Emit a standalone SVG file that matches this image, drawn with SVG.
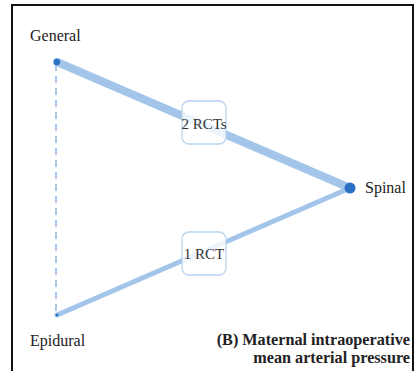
<svg xmlns="http://www.w3.org/2000/svg" width="417" height="371" viewBox="0 0 417 371">
<style>
.lbl{font-family:"Liberation Serif","Times New Roman",serif;font-size:16px;fill:#222}
.elbl{font-family:"Liberation Serif","Times New Roman",serif;font-size:15px;fill:#333;text-anchor:middle}
.ttl{font-family:"Liberation Serif","Times New Roman",serif;font-size:16.2px;font-weight:bold;fill:#222;text-anchor:end}
.box{fill:#ffffff;fill-opacity:0.8;stroke:#b9d4ef;stroke-width:1.3}
.node{fill:#2c72c4}
.edge{stroke:#a3c5ea;fill:none;stroke-linecap:round}
</style>
<rect width="417" height="371" fill="#ffffff"/>
<rect x="12" y="5" width="401" height="380" fill="none" stroke="#111" stroke-width="2"/>
<g id="connectors">
<line class="edge" x1="57" y1="62" x2="350" y2="188" stroke-width="8"/>
<line class="edge" x1="57" y1="315" x2="350" y2="188" stroke-width="5"/>
<line x1="56" y1="64" x2="56" y2="314" stroke="#8db7e3" stroke-width="1.5" stroke-dasharray="7,5"/>
<g id="edge-general-spinal">
<rect class="box" x="182" y="101" width="44" height="43" rx="7"/>
<text class="elbl" x="204" y="129">2 RCTs</text>
</g>
<g id="edge-epidural-spinal">
<rect class="box" x="182" y="232" width="44" height="43" rx="7"/>
<text class="elbl" x="204" y="259">1 RCT</text>
</g>
</g>
<g id="general">
<circle class="node" cx="57" cy="62" r="3.2"/>
<text class="lbl" x="30" y="41">General</text>
</g>
<g id="spinal">
<circle class="node" cx="350" cy="188" r="5.5"/>
<text class="lbl" x="365" y="193">Spinal</text>
</g>
<g id="epidural">
<circle class="node" cx="57" cy="315" r="1.5"/>
<text class="lbl" x="30" y="346">Epidural</text>
</g>
<g id="title">
<text class="ttl" x="410" y="345">(B) Maternal intraoperative</text>
<text class="ttl" x="410" y="363">mean arterial pressure</text>
</g>
</svg>
